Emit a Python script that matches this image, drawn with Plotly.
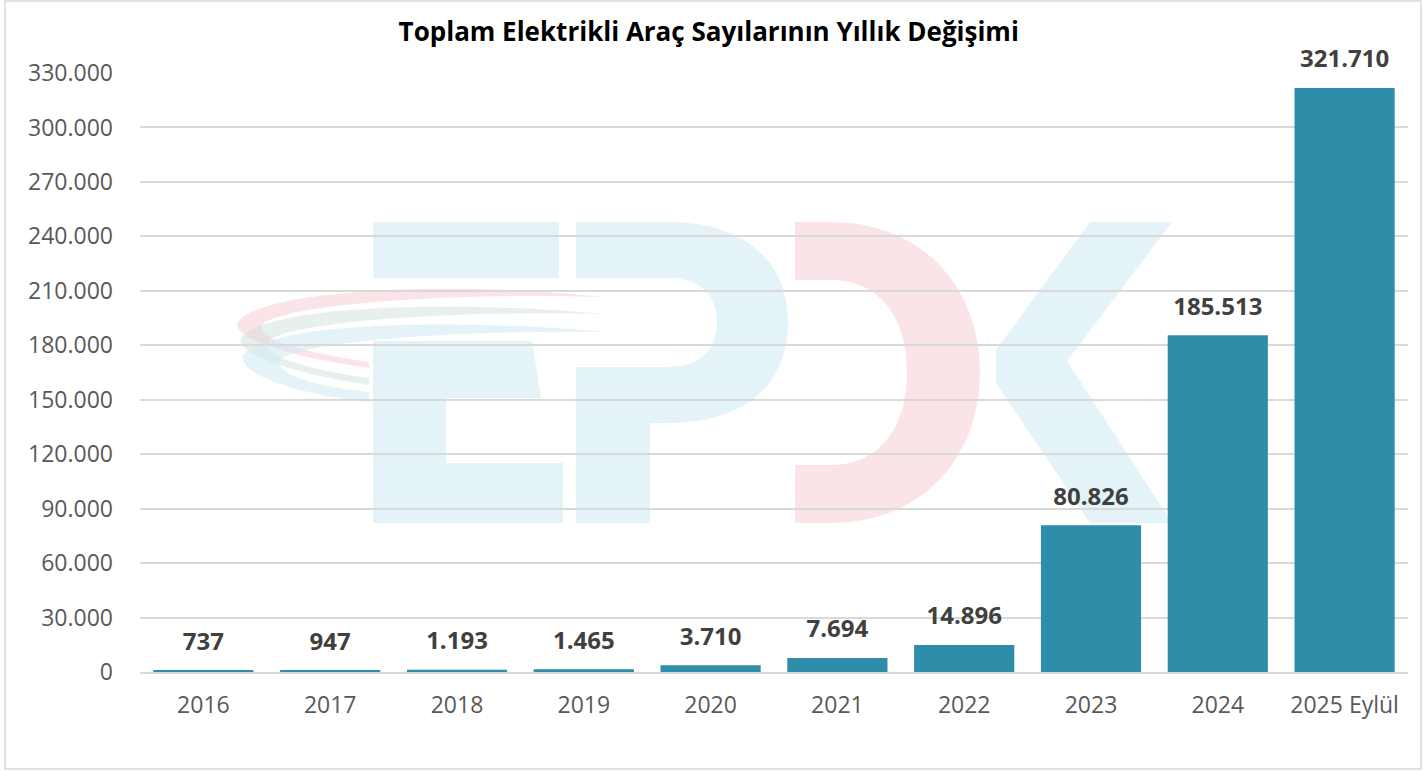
import plotly.graph_objects as go

years = ["2016", "2017", "2018", "2019", "2020", "2021", "2022", "2023", "2024", "2025 Eylül"]
ev_counts = [737, 947, 1193, 1465, 3710, 7694, 14896, 80826, 185513, 321710]
y_ticks = list(range(0, 330001, 30000))

W, H = 1426, 771
ML, MR, MT, MB = 140, 18, 73, 99
PW, PH = W - ML - MR, H - MT - MB


def px(x, y):
    # pixel position -> paper coords
    return "%.5f,%.5f" % ((x - ML) / PW, (H - MB - y) / PH)


def path(cmds):
    out = []
    for c in cmds:
        if isinstance(c, str):
            out.append(c)
        else:
            out.append(px(*c))
    return " ".join(out)


BLUE_WM = "rgba(205,234,243,0.55)"
RED_WM = "rgba(243,196,204,0.45)"
GREEN_WM = "rgba(205,222,216,0.45)"

logo = [
    # swooshes
    (RED_WM, ["M", (603, 297), "C", (450, 280), (260, 290), (238, 322), "C", (230, 340), (300, 358), (369, 368),
              "L", (369, 362), "C", (300, 352), (255, 338), (262, 325), "C", (280, 305), (450, 292), (603, 297), "Z"]),
    (GREEN_WM, ["M", (606, 314), "C", (450, 300), (265, 305), (241, 338), "C", (235, 355), (300, 375), (369, 385),
                "L", (369, 378), "C", (300, 368), (262, 355), (268, 342), "C", (285, 322), (450, 310), (606, 314), "Z"]),
    (BLUE_WM, ["M", (608, 332), "C", (450, 318), (270, 322), (243, 355), "C", (238, 375), (300, 395), (369, 402),
               "L", (369, 392), "C", (300, 385), (275, 370), (280, 360), "C", (300, 342), (450, 330), (608, 332), "Z"]),
    # E
    (BLUE_WM, ["M", (373, 222), "L", (559, 222), "L", (559, 278), "L", (373, 278), "Z"]),
    (BLUE_WM, ["M", (373, 341), "L", (532, 341), "L", (541, 398), "L", (446, 398), "L", (446, 463),
               "L", (563, 463), "L", (563, 523), "L", (373, 523), "Z"]),
    # P
    (BLUE_WM, ["M", (576, 222), "L", (668, 222), "C", (745, 222), (788, 262), (788, 322),
               "C", (788, 385), (745, 423), (668, 423), "L", (650, 423), "L", (650, 523), "L", (576, 523),
               "L", (576, 367), "L", (668, 367), "C", (700, 367), (717, 350), (717, 322),
               "C", (717, 295), (700, 278), (668, 278), "L", (576, 278), "Z"]),
    # D
    (RED_WM, ["M", (795, 222), "L", (830, 222), "C", (925, 222), (980, 290), (980, 372),
              "C", (980, 455), (925, 523), (830, 523), "L", (795, 523), "L", (795, 465), "L", (830, 465),
              "C", (882, 465), (907, 425), (907, 372), "C", (907, 320), (882, 280), (830, 280),
              "L", (795, 280), "Z"]),
    # K
    (BLUE_WM, ["M", (1090, 222), "L", (1172, 222), "L", (1067, 361), "L", (1172, 523), "L", (1090, 523),
               "L", (996, 383), "L", (996, 350), "Z"]),
]

shapes = [
    dict(type="path", xref="paper", yref="paper", path=path(p), fillcolor=col,
         line=dict(width=0), layer="below")
    for col, p in logo
]
# outer chart border
shapes.append(dict(type="rect", xref="paper", yref="paper",
                   x0=(5 - ML) / PW, x1=(1421 - ML) / PW,
                   y0=(H - MB - 769) / PH, y1=(H - MB - 1) / PH,
                   line=dict(color="#D9D9D9", width=1.5), fillcolor="rgba(0,0,0,0)", layer="below"))

fig = go.Figure()
fig.add_trace(go.Bar(
    x=years,
    y=ev_counts,
    marker=dict(color="#2E8DA8", line=dict(width=0)),
    hoverinfo="x+y",
))
# value labels: invisible markers push the text a bit above the bar tops
fig.add_trace(go.Scatter(
    x=years,
    y=ev_counts,
    mode="markers+text",
    marker=dict(size=22, opacity=0),
    texttemplate="<b>%{y:,}</b>",
    textposition="top center",
    textfont=dict(family="Open Sans", size=24, color="#404040"),
    cliponaxis=False,
    hoverinfo="skip",
))

fig.update_layout(
    width=W,
    height=H,
    margin=dict(l=ML, r=MR, t=MT, b=MB),
    paper_bgcolor="white",
    plot_bgcolor="rgba(0,0,0,0)",
    separators=",.",
    bargap=0.21,
    showlegend=False,
    title=dict(
        text="<b>Toplam Elektrikli Araç Sayılarının Yıllık Değişimi</b>",
        x=0.497, xref="container", xanchor="center",
        y=1 - 32 / H, yanchor="middle",
        font=dict(family="Open Sans", size=26, color="#000000"),
    ),
    font=dict(family="Open Sans"),
    shapes=shapes,
)

fig.update_xaxes(
    type="category",
    range=[-0.5, len(years) - 0.5],
    tickfont=dict(size=23, color="#595959"),
    showgrid=False,
    showline=True, linecolor="#D9D9D9", linewidth=1.5,
    ticks="", ticklabelstandoff=12,
)
fig.update_yaxes(
    range=[0, 330000],
    tickvals=y_ticks,
    tickformat=",d",
    tickfont=dict(size=23, color="#595959"),
    showgrid=True, gridcolor="#D9D9D9", gridwidth=1.5,
    zeroline=False, showline=False, ticks="",
    ticklabelstandoff=26,
)

fig.write_html("out.html", config={"displayModeBar": False},
               post_script="document.body.style.margin='0';")
